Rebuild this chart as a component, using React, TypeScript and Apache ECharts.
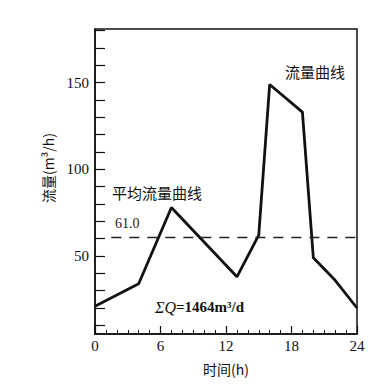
import React, { useEffect, useRef } from "react";
import * as echarts from "echarts";

const hours = [0, 4, 7, 13, 15, 16, 19, 20, 22, 24];
const flow = [21, 34, 78, 38, 62, 149, 133, 49, 36, 20];
const AVG_FLOW = 61.0;
const AVG_LABEL = "61.0";
const xTicks = [0, 6, 12, 18, 24];
const yLabelValues = [50, 100, 150];

const SERIF = "'Liberation Serif', 'DejaVu Serif', serif";
const CJK = "'Noto Sans CJK SC', sans-serif";

export default function App() {
  const ref = useRef<HTMLDivElement>(null);
  useEffect(() => {
    if (!ref.current) return;
    const chart = echarts.init(ref.current, null, { renderer: "svg" });
    const data = hours.map((h, i) => [h, flow[i]]);
    chart.setOption({
      animation: false,
      backgroundColor: "#fff",
      grid: {
        left: 95,
        right: 34,
        top: 29,
        bottom: 53,
        show: true,
        borderColor: "#111",
        borderWidth: 1.5,
      },
      xAxis: {
        type: "value",
        min: xTicks[0],
        max: xTicks[xTicks.length - 1],
        interval: 6,
        name: "时间(h)",
        nameLocation: "middle",
        nameGap: 28,
        nameTextStyle: { fontFamily: CJK, fontSize: 14, color: "#111" },
        axisLine: { show: true, lineStyle: { color: "#111", width: 1.5 } },
        axisTick: { show: true, inside: true, length: 8, lineStyle: { color: "#111", width: 1.2 } },
        minorTick: { show: true, splitNumber: 6, length: 4, lineStyle: { color: "#111", width: 1 } },
        axisLabel: { fontFamily: SERIF, fontSize: 15, color: "#111", margin: 4 },
        splitLine: { show: false },
      },
      yAxis: {
        type: "value",
        min: 5,
        max: 181,
        splitNumber: 18,
        axisLine: { show: true, lineStyle: { color: "#111", width: 1.5 } },
        axisTick: { show: true, inside: true, length: 10, lineStyle: { color: "#111", width: 1.2 } },
        axisLabel: {
          fontFamily: SERIF,
          fontSize: 15,
          color: "#111",
          margin: 6,
          showMinLabel: false,
          showMaxLabel: false,
          formatter: (v: number) => (yLabelValues.indexOf(v) >= 0 ? String(v) : ""),
        },
        splitLine: { show: false },
      },
      series: [
        {
          type: "line",
          data,
          symbol: "none",
          lineStyle: { color: "#111", width: 2.8 },
          markLine: {
            silent: true,
            symbol: "none",
            label: { show: false },
            lineStyle: { color: "#222", type: [10, 8], width: 1.3 },
            data: [[{ coord: [1.5, AVG_FLOW] }, { coord: [24, AVG_FLOW] }]],
          },
        },
      ],
      graphic: [
        {
          type: "text",
          x: 48,
          y: 168,
          rotation: Math.PI / 2,
          style: {
            text: "流量(m³/h)",
            font: `14px ${CJK}`,
            fill: "#111",
            align: "center",
            verticalAlign: "middle",
          },
        },
        {
          type: "text",
          left: 115,
          top: 216,
          style: { text: AVG_LABEL, font: `14px ${SERIF}`, fill: "#222" },
        },
        {
          type: "text",
          left: 112,
          top: 185,
          style: { text: "平均流量曲线", font: `15px ${CJK}`, fill: "#111" },
        },
        {
          type: "text",
          left: 285,
          top: 64,
          style: { text: "流量曲线", font: `15px ${CJK}`, fill: "#111" },
        },
        {
          type: "text",
          left: 155,
          top: 299,
          style: {
            text: "{i|ΣQ}{b|=1464m³/d}",
            rich: {
              i: { fontFamily: SERIF, fontStyle: "italic", fontSize: 16, fill: "#111" },
              b: { fontFamily: SERIF, fontWeight: "bold", fontSize: 15, fill: "#111" },
            },
          },
        },
      ],
    });
    return () => chart.dispose();
  }, []);
  return (
    <div
      ref={ref}
      style={{ position: "fixed", left: 0, top: 0, width: 391, height: 387 }}
    />
  );
}
